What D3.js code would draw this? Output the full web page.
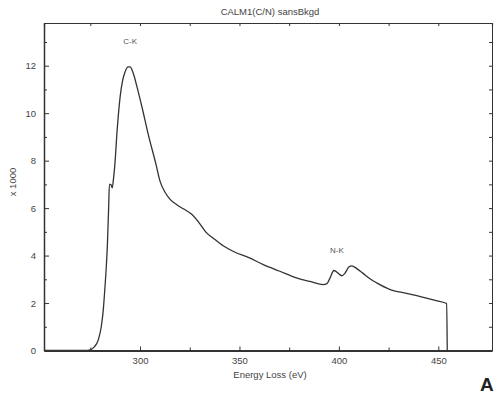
<!doctype html>
<html>
  <head>
    <meta charset="utf-8">
    <title>CALM1(C/N) sansBkgd</title>
    <script src="https://cdnjs.cloudflare.com/ajax/libs/d3/7.8.5/d3.min.js"></script>
    <style>
      body { margin: 0; background: #fff; }
      svg { display: block; font-family: "Liberation Sans", Arial, sans-serif; }
      .axis path, .axis line { stroke: #333; }
      .axis text { fill: #444; font-size: 9.5px; }
    </style>
  </head>
  <body>
    <div id="chart"></div>
    <script>
      // energy loss (eV) and counts (x 1000)
      const energy = [252, 260, 268, 272, 275, 277, 279, 280.5, 281.5, 282.3, 283, 283.6, 284.2, 284.6, 285.3, 286,
        286.6, 287.3, 288.5, 290, 291.3, 292.5, 294, 295, 296.5, 298.5, 301, 304, 308, 310, 312.5, 315, 318.5,
        322, 326, 330, 333, 337, 342, 347, 355, 362, 370, 379, 386, 392, 394, 395.5, 397.5, 399, 401.5, 403,
        405, 406.5, 409, 412, 416, 419, 425.5, 434, 442.5, 448, 454.2, 454.5];
      const counts = [0, 0, 0, 0, 0.03, 0.15, 0.45, 1.0, 1.7, 2.6, 3.5, 4.5, 6.0, 7.0, 7.0, 6.85,
        7.2, 7.8, 9.3, 10.7, 11.4, 11.75, 11.95, 11.95, 11.7, 11.1, 10.25, 9.15, 7.85, 7.15, 6.68, 6.38, 6.14,
        5.96, 5.74, 5.35, 5.0, 4.72, 4.4, 4.17, 3.9, 3.62, 3.35, 3.05, 2.9, 2.78, 2.82, 3.05, 3.37, 3.3, 3.15, 3.25,
        3.52, 3.57, 3.45, 3.26, 3.0, 2.85, 2.58, 2.41, 2.24, 2.12, 1.98, 0];

      const xTicks = [300, 350, 400, 450];
      const xMinor = [275, 325, 375, 425];
      const yTicks = [0, 2, 4, 6, 8, 10, 12];
      const yMinor = [1, 3, 5, 7, 9, 11, 13];
      const peakNames = ["C-K", "N-K"];
      const peakPos = [295, 399];
      const peakVal = [12.9, 4.1];

      const width = 496, height = 394;
      const mLeft = 44, mRight = 492, mTop = 23, mBottom = 350.5;

      const svg = d3.select('#chart').append('svg')
        .attr('width', width)
        .attr('height', height);

      const x = d3.scaleLinear().domain([251.7, 477]).range([mLeft, mRight]);
      const y = d3.scaleLinear().domain([0, 13.8]).range([mBottom, mTop]);

      // title
      svg.append('text')
        .attr('x', 270).attr('y', 15)
        .attr('text-anchor', 'middle')
        .attr('font-size', 9.5)
        .attr('fill', '#444')
        .text('CALM1(C/N) sansBkgd');

      // bottom axis, ticks pointing in
      const xAxis = svg.append('g').attr('class', 'axis')
        .attr('transform', `translate(0,${mBottom})`)
        .call(d3.axisBottom(x).tickValues(xTicks).tickSizeInner(-4).tickSizeOuter(0).tickPadding(7));
      xAxis.select('.domain').attr('stroke-width', 2);
      svg.append('g').attr('class', 'axis')
        .attr('transform', `translate(0,${mBottom})`)
        .call(d3.axisBottom(x).tickValues(xMinor).tickSize(-3).tickFormat(''))
        .select('.domain').remove();

      // top axis
      const xTop = svg.append('g').attr('class', 'axis')
        .attr('transform', `translate(0,${mTop})`)
        .call(d3.axisTop(x).tickValues(xTicks.concat(xMinor)).tickSize(-3).tickFormat(''));
      xTop.select('.domain').attr('stroke', '#666').attr('stroke-width', 1.2);

      // left axis
      const yAxis = svg.append('g').attr('class', 'axis')
        .attr('transform', `translate(${mLeft},0)`)
        .call(d3.axisLeft(y).tickValues(yTicks).tickSizeInner(-5).tickSizeOuter(0).tickPadding(8));
      yAxis.select('.domain').attr('stroke-width', 1.5);
      svg.append('g').attr('class', 'axis')
        .attr('transform', `translate(${mLeft},0)`)
        .call(d3.axisLeft(y).tickValues(yMinor).tickSize(-3).tickFormat(''))
        .select('.domain').remove();

      // right axis
      const yRight = svg.append('g').attr('class', 'axis')
        .attr('transform', `translate(${mRight},0)`)
        .call(d3.axisRight(y).tickValues(yTicks.concat(yMinor)).tickSize(-3).tickFormat(''));
      yRight.select('.domain').attr('stroke', '#666');

      // axis titles
      svg.append('text')
        .attr('x', 270).attr('y', 378)
        .attr('text-anchor', 'middle')
        .attr('font-size', 9.5)
        .attr('fill', '#444')
        .text('Energy Loss (eV)');

      svg.append('text')
        .attr('transform', 'translate(16,182) rotate(-90)')
        .attr('text-anchor', 'middle')
        .attr('font-size', 9.5)
        .attr('fill', '#444')
        .text('x 1000');

      // spectrum
      const data = energy.map((e, i) => ({ e: e, v: counts[i] }));
      const line = d3.line()
        .x(d => x(d.e))
        .y(d => y(d.v))
        .curve(d3.curveMonotoneX);

      svg.append('path')
        .datum(data)
        .attr('d', line)
        .attr('fill', 'none')
        .attr('stroke', '#333')
        .attr('stroke-width', 1.3);

      // edge labels
      svg.selectAll('.peak')
        .data(peakNames)
        .join('text')
        .attr('class', 'peak')
        .attr('x', (d, i) => x(peakPos[i]))
        .attr('y', (d, i) => y(peakVal[i]))
        .attr('text-anchor', 'middle')
        .attr('font-size', 8)
        .attr('fill', '#555')
        .text(d => d);

      // panel letter
      svg.append('text')
        .attr('x', 480).attr('y', 391)
        .attr('font-size', 19)
        .attr('font-weight', 'bold')
        .attr('fill', '#222')
        .text('A');
    </script>
  </body>
</html>
